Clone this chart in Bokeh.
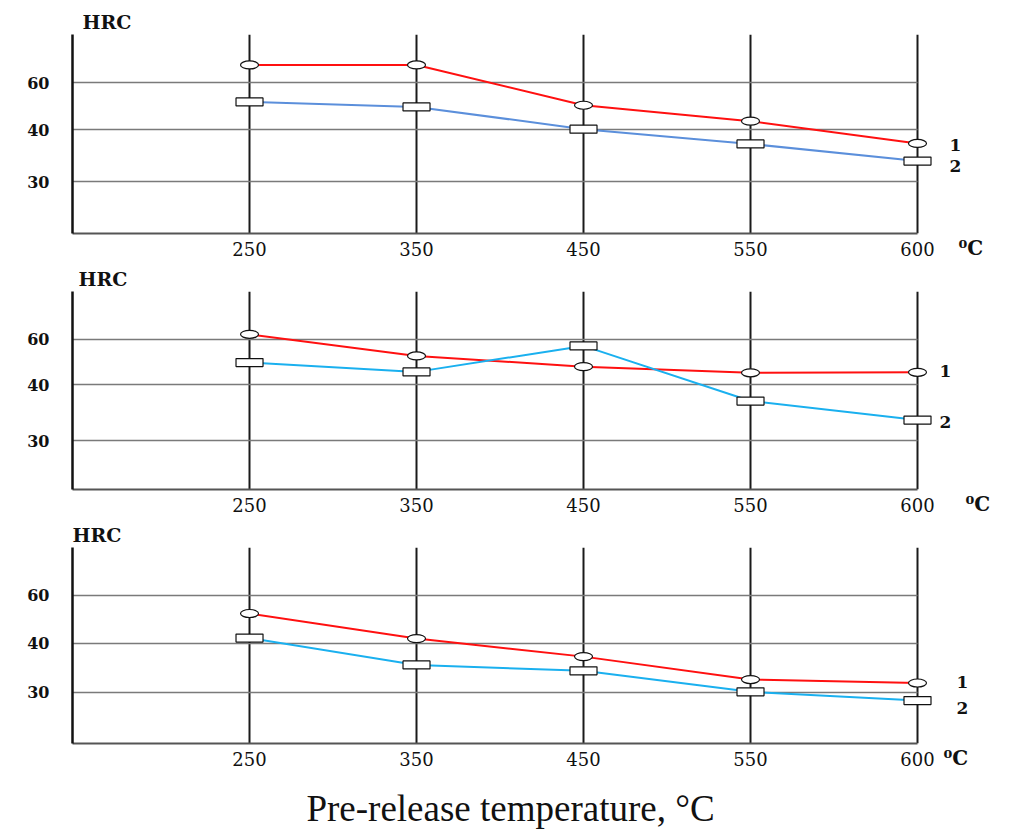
import numpy as np
from bokeh.plotting import figure
from bokeh.models import (Range1d, FixedTicker, ColumnDataSource, LinearAxis, Title,
                          Label, Grid)
from bokeh.layouts import column
from bokeh.embed import file_html
from bokeh.resources import INLINE

# ---------------- data ----------------
temps = ["250", "350", "450", "550", "600"]
hrc_levels = [30, 40, 60]
hrc_labels = ["30", "40", "60"]

p1_curve1 = [67.4, 67.4, 50.4, 43.7, 37.4]
p1_curve2 = [51.8, 49.7, 40.3, 37.3, 34.0]
p2_curve1 = [62.2, 52.7, 48.0, 45.3, 45.5]
p2_curve2 = [49.8, 45.7, 57.1, 37.1, 33.7]
p3_curve1 = [52.4, 42.0, 37.3, 32.6, 31.9]
p3_curve2 = [42.2, 35.6, 34.4, 30.1, 28.3]

curve_names = ["1", "2"]
title_text = "Pre-release temperature, °C"
unit_text = "\n⁰C"
yname = "HRC"

# ---------------- layout / style ----------------
EXT = 15  # px of frame beyond the 600 line so end markers are not cut
panels = [
    dict(c1=p1_curve1, c2=p1_curve2, color2="#5b8fdb", grid=[51.6, 103.6, 151.0],
         fh=199, top=34, bottom=30, hrc_dx=10, lab_dy=(-2, -5), lab_so=32 - EXT, unit_so=-6),
    dict(c1=p2_curve1, c2=p2_curve2, color2="#1ab0ef", grid=[49.3, 105.7, 151.7],
         fh=200, top=26, bottom=30, hrc_dx=6, lab_dy=(1, -2), lab_so=22 - EXT, unit_so=11),
    dict(c1=p3_curve1, c2=p3_curve2, color2="#1ab0ef", grid=[52.0, 101.6, 150.6],
         fh=199, top=25, bottom=30, hrc_dx=0, lab_dy=(1, -8), lab_so=39 - EXT, unit_so=-28),
]

W = 1002
BL, BR = 72, 85 - EXT
X0, X1 = -0.06, 5
X2 = X1 + (X1 - X0) * EXT / 845.0
xs = list(range(1, len(temps) + 1))


def hrc_to_pos(vals, grid):
    lv = np.array(hrc_levels, dtype=float)
    gp = np.array(grid, dtype=float)
    out = []
    for v in vals:
        if v > lv[-1]:
            s = (gp[-1] - gp[-2]) / (lv[-1] - lv[-2])
            out.append(gp[-1] + (v - lv[-1]) * s)
        elif v < lv[0]:
            s = (gp[1] - gp[0]) / (lv[1] - lv[0])
            out.append(gp[0] + (v - lv[0]) * s)
        else:
            out.append(float(np.interp(v, lv, gp)))
    return out


def side_axis(ticks, overrides, standoff, size):
    ax = LinearAxis(ticker=FixedTicker(ticks=ticks), major_label_overrides=overrides)
    ax.axis_line_color = None
    ax.major_tick_line_color = None
    ax.minor_tick_line_color = None
    ax.major_tick_out = 0
    ax.major_tick_in = 0
    ax.minor_tick_out = 0
    ax.minor_tick_in = 0
    ax.major_label_standoff = standoff
    ax.major_label_text_font = "DejaVu Serif"
    ax.major_label_text_font_style = "bold"
    ax.major_label_text_font_size = size
    ax.major_label_text_color = "#111111"
    return ax


def hlines(p, ticks, width):
    g = Grid(dimension=1, ticker=FixedTicker(ticks=ticks), grid_line_color="#7a7a7a",
             grid_line_width=width)
    if "cross_bounds" in g.properties():
        g.cross_bounds = (X0, X1)
        p.add_layout(g)
    else:
        src = ColumnDataSource(dict(y=ticks))
        p.segment(x0=X0, x1=X1, y0="y", y1="y", source=src, line_color="#7a7a7a",
                  line_width=width, level="underlay")


figs = []
for i, cfg in enumerate(panels):
    H = cfg["top"] + cfg["fh"] + cfg["bottom"]
    ttl = Title(text=yname, align="left", offset=cfg["hrc_dx"], standoff=4,
                text_font="DejaVu Serif", text_font_style="bold", text_font_size="19px",
                text_color="#111111")
    p = figure(width=W, height=H, output_backend="svg", toolbar_location=None,
               x_range=Range1d(X0, X2), y_range=Range1d(0, cfg["fh"]),
               min_border_left=BL, min_border_right=BR,
               min_border_top=cfg["top"], min_border_bottom=cfg["bottom"], title=ttl)
    p.outline_line_color = None
    p.background_fill_color = "white"
    p.border_fill_color = "white"

    # x axis
    p.xaxis.ticker = FixedTicker(ticks=xs)
    p.xaxis.major_label_overrides = {x: t for x, t in zip(xs, temps)}
    p.xaxis.bounds = (X0, X1)
    p.xaxis.major_label_text_font = "DejaVu Serif"
    p.xaxis.major_label_text_font_size = "18px"
    p.xaxis.major_label_text_color = "#111111"
    p.xaxis.major_label_standoff = 2
    p.xaxis.major_tick_line_color = None
    p.xaxis.minor_tick_line_color = None
    p.xaxis.axis_line_color = "#555555"
    p.xaxis.axis_line_width = 2

    # y axis
    p.yaxis.ticker = FixedTicker(ticks=cfg["grid"])
    p.yaxis.major_label_overrides = {g: t for g, t in zip(cfg["grid"], hrc_labels)}
    p.yaxis.major_label_text_font = "DejaVu Serif"
    p.yaxis.major_label_text_font_style = "bold"
    p.yaxis.major_label_text_font_size = "16px"
    p.yaxis.major_label_text_color = "#111111"
    p.yaxis.major_label_standoff = 17
    p.yaxis.major_tick_line_color = None
    p.yaxis.minor_tick_line_color = None
    p.yaxis.axis_line_color = "#111111"
    p.yaxis.axis_line_width = 2.5

    # grids (vertical lines incl. the 600 border, under the markers)
    p.xgrid.ticker = FixedTicker(ticks=xs)
    p.xgrid.grid_line_color = "#1a1a1a"
    p.xgrid.grid_line_width = 2
    p.ygrid.visible = False
    hlines(p, cfg["grid"], 1.5)
    hlines(p, [float(cfg["fh"])], 3)

    y1 = hrc_to_pos(cfg["c1"], cfg["grid"])
    y2 = hrc_to_pos(cfg["c2"], cfg["grid"])
    s1 = ColumnDataSource(dict(x=xs, y=y1))
    s2 = ColumnDataSource(dict(x=xs, y=y2))

    p.line("x", "y", source=s1, line_color="#ff1010", line_width=2)
    p.line("x", "y", source=s2, line_color=cfg["color2"], line_width=2)
    p.ellipse("x", "y", source=s1, width=18, height=8, width_units="screen",
              height_units="screen", fill_color="white", line_color="#111111", line_width=1.2)
    p.rect("x", "y", source=s2, width=27, height=8, width_units="screen",
           height_units="screen", fill_color="white", line_color="#111111", line_width=1.2)

    # right-side labels: curve numbers, then the unit
    t1 = y1[-1] + cfg["lab_dy"][0]
    t2 = y2[-1] + cfg["lab_dy"][1]
    rax = side_axis([t2, t1], {t1: curve_names[0], t2: curve_names[1]}, cfg["lab_so"], "17px")
    p.add_layout(rax, "right")
    uax = side_axis([0.0], {0.0: unit_text}, cfg["unit_so"], "20px")
    p.add_layout(uax, "right")
    figs.append(p)

# bottom caption strip (frame aligned with the panels above)
cap = figure(width=W, height=57, output_backend="svg", toolbar_location=None, title=None,
             x_range=Range1d(X0, X2), y_range=Range1d(0, 57),
             x_axis_location=None, y_axis_location=None,
             min_border_left=BL, min_border_right=BR, min_border_top=0, min_border_bottom=0)
cap.outline_line_color = None
cap.xgrid.visible = False
cap.ygrid.visible = False
cap.add_layout(Label(x=2.563, y=22, text=title_text, text_font="Liberation Serif",
                     text_font_size="37px", text_align="center", text_baseline="alphabetic",
                     text_color="#111111"))
figs.append(cap)

layout = column(*figs)
open("out.html", "w").write(file_html(layout, INLINE))
